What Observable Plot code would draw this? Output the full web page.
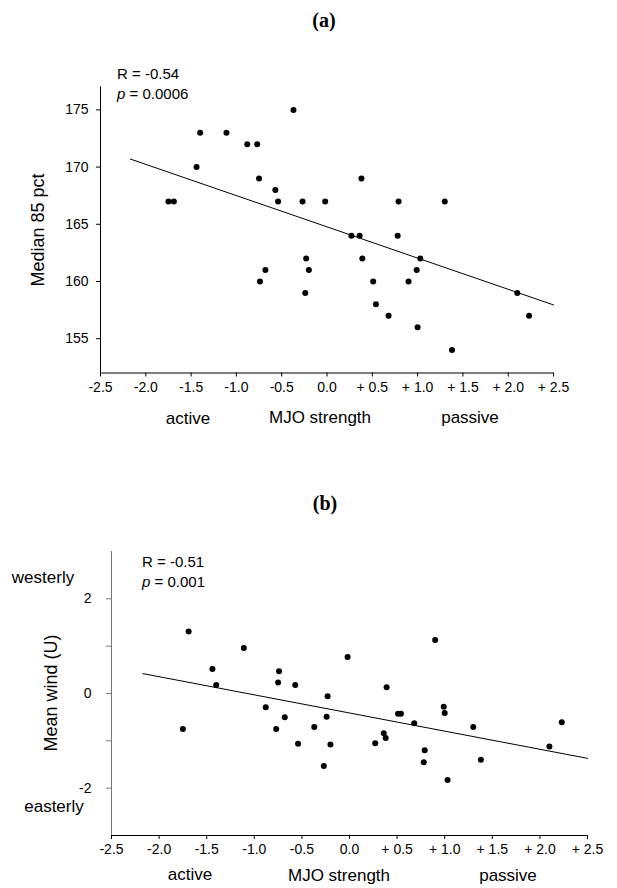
<!DOCTYPE html>
<html>
<head>
<meta charset="utf-8">
<script src="https://cdn.jsdelivr.net/npm/d3@7"></script>
<script src="https://cdn.jsdelivr.net/npm/@observablehq/plot@0.6"></script>
<style>
  html, body { margin: 0; padding: 0; background: #fff; }
  #page { position: relative; width: 617px; height: 888px; overflow: hidden; background: #fff;
          font-family: "Liberation Sans", Arial, sans-serif; color: #000; }
  .abs { position: absolute; white-space: nowrap; line-height: 1; }
  .c { transform: translate(-50%, -50%); }
  .l { transform: translate(0, -50%); }
  .rot { transform: translate(-50%, -50%) rotate(-90deg); }
  .title { font-family: "Liberation Serif", "Times New Roman", serif; font-weight: bold; font-size: 20px; }
  .stat { font-size: 15px; }
  .lab { font-size: 17px; }
  .ylab { font-size: 18px; }
  #plotA, #plotB { position: absolute; left: 0; }
  #plotA { top: 40px; }
  #plotB { top: 530px; }
</style>
</head>
<body>
<div id="page">
  <div id="plotA"></div>
  <div id="plotB"></div>
</div>
<script>
// ---- data ----
const mjoStrength = [-1.75, -1.69, -1.44, -1.40, -1.11, -0.88, -0.77, -0.75, -0.74, -0.68,
                     -0.57, -0.54, -0.37, -0.27, -0.24, -0.23, -0.20, -0.02, 0.27, 0.36,
                      0.38, 0.39, 0.51, 0.54, 0.68, 0.78, 0.79, 0.90, 0.99, 1.00,
                      1.03, 1.30, 1.38, 2.10, 2.23];
const median85pct = [167, 167, 170, 173, 173, 172, 172, 169, 160, 161,
                     168, 167, 175, 167, 159, 162, 161, 167, 164, 164,
                     169, 162, 160, 158, 157, 164, 167, 160, 161, 156,
                     162, 167, 154, 159, 157];
const meanWindU = [-0.75, 1.31, 0.52, 0.18, 0.96, -0.29, -0.75, 0.23, 0.47, -0.50,
                    0.18, -1.06, -0.71, -1.53, -0.49, -0.06, -1.08, 0.77, -1.05, -0.84,
                   -0.94, 0.13, -0.43, -0.43, -0.63, -1.45, -1.20, 1.13, -0.28, -0.41,
                   -1.83, -0.71, -1.40, -1.12, -0.61];
// fitted regression lines (end points)
const fitX = [-2.17, 2.5];
const fitMedian = [170.7, 157.95];
const fitWind = [0.42, -1.37];

const xDomain = [-2.5, 2.5];
const xTicks = [-2.5, -2.0, -1.5, -1.0, -0.5, 0.0, 0.5, 1.0, 1.5, 2.0, 2.5];
const xTickLabels = ["-2.5", "-2.0", "-1.5", "-1.0", "-0.5", "0.0", "+ 0.5", "+ 1.0", "+ 1.5", "+ 2.0", "+ 2.5"];
const yDomainA = [152, 177];
const yTicksA = [155, 160, 165, 170, 175];
const yTickLabelsA = ["155", "160", "165", "170", "175"];
const yDomainB = [-3, 3];
const yTicksB = [-2, -1, 0, 1, 2];
const yTickLabelsB = ["-2", "", "0", "", "2"];

const ptsA = mjoStrength.map((x, i) => ({x, y: median85pct[i]}));
const ptsB = mjoStrength.map((x, i) => ({x, y: meanWindU[i]}));
const lineA = fitX.map((x, i) => ({x, y: fitMedian[i]}));
const lineB = fitX.map((x, i) => ({x, y: fitWind[i]}));

const fmt = (ticks, labels) => d => labels[ticks.findIndex(t => Math.abs(t - d) < 1e-9)];
const style = {fontFamily: '"Liberation Sans", Arial, sans-serif', fontSize: "14px", color: "#000", background: "#fff", overflow: "visible"};

const plotA = Plot.plot({
  width: 617, height: 400,
  marginTop: 46.5, marginBottom: 67.5, marginLeft: 100, marginRight: 64,
  style,
  x: {domain: xDomain},
  y: {domain: yDomainA},
  marks: [
    Plot.axisX({ticks: xTicks, tickFormat: fmt(xTicks, xTickLabels), tickSize: 4, tickPadding: 5, label: null}),
    Plot.axisY({ticks: yTicksA, tickFormat: fmt(yTicksA, yTickLabelsA), tickSize: 4, tickPadding: 8, label: null}),
    Plot.ruleX([xDomain[0]], {stroke: "#000"}),
    Plot.ruleY([yDomainA[0]], {stroke: "#000"}),
    Plot.line(lineA, {x: "x", y: "y", stroke: "#000", strokeWidth: 1}),
    Plot.dot(ptsA, {x: "x", y: "y", r: 3, fill: "#000"})
  ]
});
document.getElementById("plotA").append(plotA);

const plotB = Plot.plot({
  width: 617, height: 358,
  marginTop: 21, marginBottom: 53, marginLeft: 111, marginRight: 30,
  style,
  x: {domain: xDomain},
  y: {domain: yDomainB},
  marks: [
    Plot.axisX({ticks: xTicks, tickFormat: fmt(xTicks, xTickLabels), tickSize: 4, tickPadding: 5, label: null}),
    Plot.axisY({ticks: yTicksB, tickFormat: fmt(yTicksB, yTickLabelsB), tickSize: 5, tickPadding: 15, stroke: "#777", label: null}),
    Plot.ruleX([xDomain[0]], {stroke: "#777"}),
    Plot.ruleY([yDomainB[0]], {stroke: "#000"}),
    Plot.line(lineB, {x: "x", y: "y", stroke: "#000", strokeWidth: 1}),
    Plot.dot(ptsB, {x: "x", y: "y", r: 3, fill: "#000"})
  ]
});
document.getElementById("plotB").append(plotB);

// ---- text labels ----
const page = document.getElementById("page");
function label(html, cls, left, top) {
  const d = document.createElement("div");
  d.className = "abs " + cls;
  d.style.left = left + "px";
  d.style.top = top + "px";
  d.innerHTML = html;
  page.append(d);
}
label("(a)", "title c", 324, 20);
label("R = -0.54", "stat l", 117, 72.5);
label("<i>p</i> = 0.0006", "stat l", 117, 92.5);
label("Median 85 pct", "ylab rot", 38, 229.5);
label("active", "lab c", 188, 417.5);
label("MJO strength", "lab c", 320, 417);
label("passive", "lab c", 470, 416.5);

label("(b)", "title c", 325, 503);
label("R = -0.51", "stat l", 142, 560.5);
label("<i>p</i> = 0.001", "stat l", 142, 581);
label("westerly", "lab c", 43, 576.5);
label("easterly", "lab c", 54, 806);
label("Mean wind (U)", "ylab rot", 51, 693);
label("active", "lab c", 190, 874);
label("MJO strength", "lab c", 339, 874.5);
label("passive", "lab c", 508, 874.5);
</script>
</body>
</html>
